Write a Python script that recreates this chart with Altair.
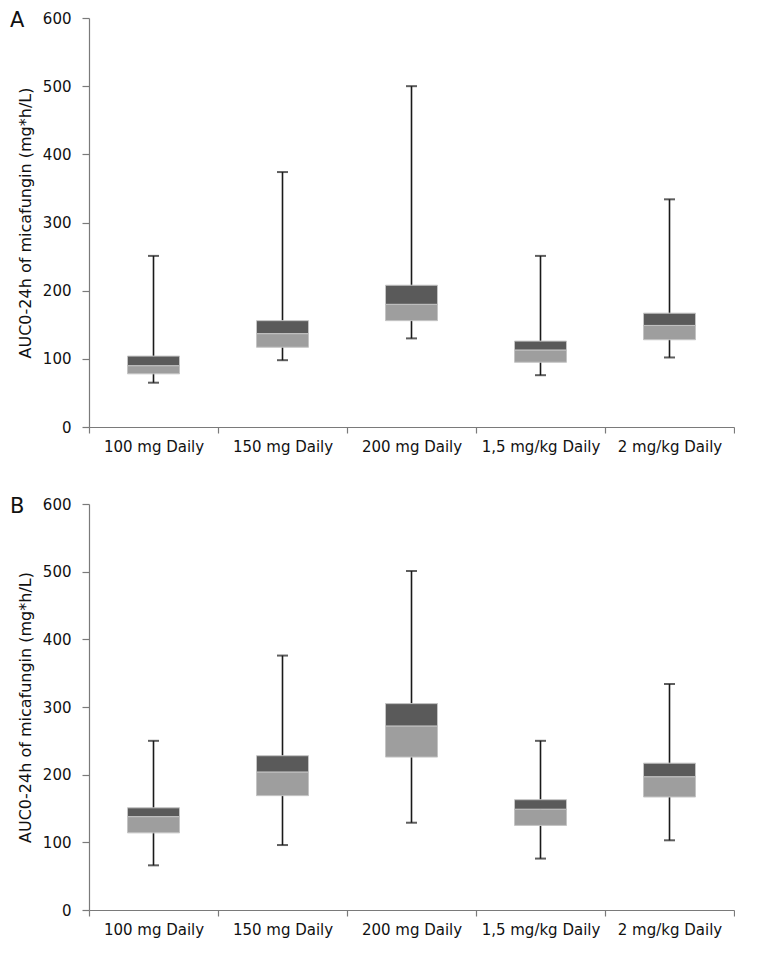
import altair as alt
import pandas as pd

categories = ["100 mg Daily", "150 mg Daily", "200 mg Daily", "1,5 mg/kg Daily", "2 mg/kg Daily"]

# Panel A
a_min = [65, 98, 130, 76, 102]
a_q1 = [78, 117, 156, 95, 128]
a_median = [90, 137, 180, 113, 149]
a_q3 = [104, 156, 208, 126, 167]
a_max = [251, 374, 500, 251, 334]

# Panel B
b_min = [66, 96, 129, 76, 103]
b_q1 = [114, 169, 226, 125, 167]
b_median = [138, 204, 272, 149, 197]
b_q3 = [151, 228, 305, 163, 217]
b_max = [250, 376, 501, 250, 334]

y_ticks = [0, 100, 200, 300, 400, 500, 600]
y_title = "AUC0-24h of micafungin (mg*h/L)"

FONT = "DejaVu Sans"
DARK = "#5a5a5a"
LIGHT = "#9e9e9e"
AXIS = "#7a7a7a"


def panel(letter, mins, q1, med, q3, maxs, width, height):
    df = pd.DataFrame({"cat": categories, "min": mins, "q1": q1, "median": med, "q3": q3, "max": maxs})
    x = alt.X("cat:N", sort=categories, title=None,
              scale=alt.Scale(paddingInner=0, paddingOuter=0),
              axis=alt.Axis(labelAngle=0, tickBand="extent", tickSize=6, labelPadding=6,
                            labelFont=FONT, labelFontSize=15, labelColor="#111",
                            domainColor=AXIS, tickColor=AXIS, domainWidth=1.2, tickWidth=1.2))
    yscale = alt.Scale(domain=[0, 600], nice=False)
    yaxis = alt.Axis(values=y_ticks, grid=False, tickSize=7, labelPadding=11,
                     labelFont=FONT, labelFontSize=15, labelColor="#111",
                     title=y_title, titleFont=FONT, titleFontSize=16, titleFontWeight="normal",
                     titleColor="#111", titlePadding=9,
                     domainColor=AXIS, tickColor=AXIS, domainWidth=1.2, tickWidth=1.2)
    base = alt.Chart(df)
    whisker = base.mark_rule(color="#1a1a1a", strokeWidth=1.6).encode(
        x=x, y=alt.Y("min:Q", scale=yscale, axis=yaxis), y2="max:Q")
    cap_lo = base.mark_tick(color="#1a1a1a", size=11, thickness=2).encode(x=x, y=alt.Y("min:Q", scale=yscale))
    cap_hi = base.mark_tick(color="#1a1a1a", size=11, thickness=2).encode(x=x, y=alt.Y("max:Q", scale=yscale))
    low = base.mark_bar(color=LIGHT, size=52, stroke="#c4c4c4", strokeWidth=1).encode(
        x=x, y=alt.Y("q1:Q", scale=yscale), y2="median:Q")
    high = base.mark_bar(color=DARK, size=52, stroke="#c4c4c4", strokeWidth=1).encode(
        x=x, y=alt.Y("median:Q", scale=yscale), y2="q3:Q")
    lab = alt.Chart(pd.DataFrame({"label": [letter]})).mark_text(
        font=FONT, fontSize=21, align="left", baseline="middle", color="#111").encode(
        text="label:N", x=alt.value(-79), y=alt.value(3))
    return alt.layer(whisker, cap_lo, cap_hi, low, high, lab).properties(width=width, height=height)


chart = alt.vconcat(
    panel("A", a_min, a_q1, a_median, a_q3, a_max, 645, 409),
    panel("B", b_min, b_q1, b_median, b_q3, b_max, 645, 406),
    spacing=42,
).properties(
    padding={"left": 2, "top": 2, "right": 0, "bottom": 10}
).configure(background="white").configure_view(strokeWidth=0)

chart.save("out.html", embed_options={"renderer": "svg", "actions": False})
